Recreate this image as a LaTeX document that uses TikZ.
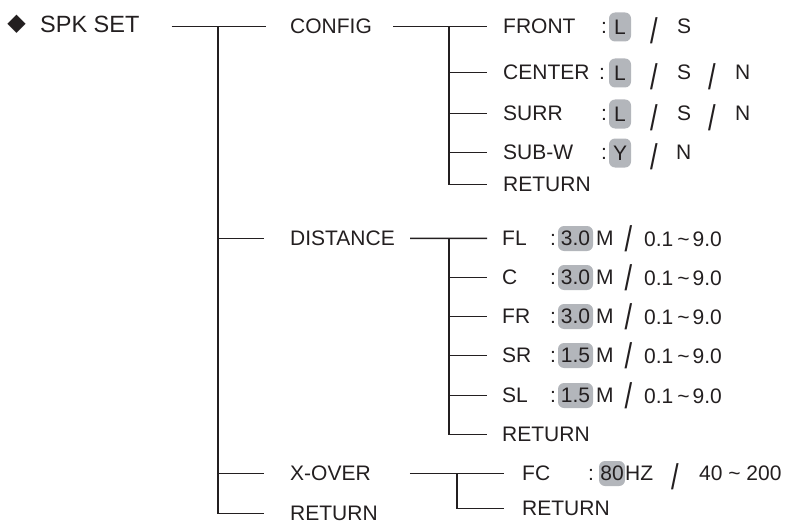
\documentclass[tikz,border=0pt]{standalone}
\usepackage{fontspec}
\usepackage{graphicx}
\setmainfont{Liberation Sans}
\newfontfamily\symfont{DejaVu Sans}
\definecolor{ink}{HTML}{231F20}
\definecolor{hlgray}{HTML}{B3B6BB}
\newcommand{\tallslash}{\scalebox{1.3}[1.7]{/}}
\newcommand{\rangetext}{0.1\hspace{4pt}\textasciitilde\hspace{3pt}9.0}
\begin{document}
\begin{tikzpicture}[x=1pt,y=-1pt,
  txt/.style={inner sep=0pt, anchor=base west, text=ink, font=\fontsize{21}{21}\selectfont},
  rangetxt/.style={txt},
  treeline/.style={draw=ink, line width=1.5pt},
  hlbox/.style={fill=hlgray, rounded corners=6pt, inner sep=0pt, text=ink, font=\fontsize{21}{21}\selectfont},
  letterbox/.style={hlbox, minimum width=22pt, minimum height=29pt},
  numbox/.style={hlbox, minimum width=35pt, minimum height=25pt},
  slashnode/.style={inner sep=0pt, text=ink, font=\fontsize{21}{21}\selectfont},
]
\useasboundingbox (0,0) rectangle (789,524);

% ---- level 0
\node[inner sep=0pt, text=ink, font=\symfont\fontsize{24}{24}\selectfont] (dia) at (16.5,24) {◆};
\node[txt, font=\fontsize{23.5}{23.5}\selectfont] (spk) at (40,32.4) {SPK SET};

% ---- level 1
\node[txt] (config) at (290,33.5) {CONFIG};
\node[txt] (distance) at (290,245.5) {DISTANCE};
\node[txt] (xover) at (290,480.5) {X-OVER};
\node[txt] (ret1) at (290,520.5) {RETURN};

% ---- CONFIG children
\node[txt] (front) at (503,33.5) {FRONT};
\node[txt] (center) at (503,79.5) {CENTER};
\node[txt] (surr) at (503,120.5) {SURR};
\node[txt] (subw) at (503,159.5) {SUB-W};
\node[txt] (cret) at (503,191.5) {RETURN};

\node[txt] (frontc) at (601,33.5) {:};
\node[letterbox] (frontv) at (620,27) {L};
\node[slashnode] (fronts1) at (654,31) {\tallslash};
\node[txt] (frontS) at (677,33.5) {S};

\node[txt] (centerc) at (599,79.5) {:};
\node[letterbox] (centerv) at (620,73) {L};
\node[slashnode] (centers1) at (654,77) {\tallslash};
\node[txt] (centerS) at (677,79.5) {S};
\node[slashnode] (centers2) at (712,77) {\tallslash};
\node[txt] (centerN) at (735,79.5) {N};

\node[txt] (surrc) at (601,120.5) {:};
\node[letterbox] (surrv) at (620,114) {L};
\node[slashnode] (surrs1) at (654,118) {\tallslash};
\node[txt] (surrS) at (677,120.5) {S};
\node[slashnode] (surrs2) at (712,118) {\tallslash};
\node[txt] (surrN) at (735,120.5) {N};

\node[txt] (subwc) at (601,159.5) {:};
\node[letterbox] (subwv) at (620,153) {Y};
\node[slashnode] (subws1) at (654,157) {\tallslash};
\node[txt] (subwN) at (676,159.5) {N};

% ---- DISTANCE children
\node[txt] (dfl) at (502,245.5) {FL};
\node[txt] (dc) at (502,284.5) {C};
\node[txt] (dfr) at (502,323.5) {FR};
\node[txt] (dsr) at (502,362.5) {SR};
\node[txt] (dsl) at (502,402.5) {SL};
\node[txt] (dret) at (502,441.5) {RETURN};

\node[txt] (dflc) at (550,245.5) {:};
\node[numbox] (dflv) at (575.5,238.5) {3.0};
\node[txt] (dflm) at (596,245.5) {M};
\node[slashnode] (dfls) at (628.5,239) {\tallslash};
\node[rangetxt] (dflr) at (644,246.5) {\rangetext};

\node[txt] (dcc) at (550,284.5) {:};
\node[numbox] (dcv) at (575.5,277.5) {3.0};
\node[txt] (dcm) at (596,284.5) {M};
\node[slashnode] (dcs) at (628.5,278) {\tallslash};
\node[rangetxt] (dcr) at (644,285.5) {\rangetext};

\node[txt] (dfrc) at (550,323.5) {:};
\node[numbox] (dfrv) at (575.5,316.5) {3.0};
\node[txt] (dfrm) at (596,323.5) {M};
\node[slashnode] (dfrs) at (628.5,317) {\tallslash};
\node[rangetxt] (dfrr) at (644,324.5) {\rangetext};

\node[txt] (dsrc) at (550,362.5) {:};
\node[numbox] (dsrv) at (575.5,355.5) {1.5};
\node[txt] (dsrm) at (596,362.5) {M};
\node[slashnode] (dsrs) at (628.5,356) {\tallslash};
\node[rangetxt] (dsrr) at (644,363.5) {\rangetext};

\node[txt] (dslc) at (550,402.5) {:};
\node[numbox] (dslv) at (575.5,395.5) {1.5};
\node[txt] (dslm) at (596,402.5) {M};
\node[slashnode] (dsls) at (628.5,396) {\tallslash};
\node[rangetxt] (dslr) at (644,403.5) {\rangetext};

% ---- X-OVER children
\node[txt] (fc) at (522,480.5) {FC};
\node[txt] (xret) at (522,515.5) {RETURN};
\node[txt] (fcc) at (588,480.5) {:};
\node[hlbox, minimum width=26pt, minimum height=25pt] (fcv) at (612,473.5) {80};
\node[txt] (fchz) at (625,480.5) {HZ};
\node[slashnode] (fcs) at (675,477) {\tallslash};
\node[txt] (fcr) at (699,480.5) {40 \textasciitilde{} 200};

% ---- connectors
\coordinate (j0) at ([xshift=-72pt]config.west);
\draw[treeline] ([xshift=32pt]spk.east |- config.west) -- ([xshift=-24pt]config.west);
\draw[treeline] (j0) |- ([xshift=-26pt]ret1.west);
\draw[treeline] (j0 |- distance.west) -- ([xshift=-26pt]distance.west);
\draw[treeline] (j0 |- xover.west) -- ([xshift=-26pt]xover.west);

\coordinate (j1) at ([xshift=-54pt]front.west);
\draw[treeline] ([xshift=21pt]config.east) -- ([xshift=-16pt]front.west);
\draw[treeline] (j1) |- ([xshift=-16pt]cret.west);
\draw[treeline] (j1 |- center.west) -- ([xshift=-16pt]center.west);
\draw[treeline] (j1 |- surr.west) -- ([xshift=-16pt]surr.west);
\draw[treeline] (j1 |- subw.west) -- ([xshift=-16pt]subw.west);

\coordinate (j2) at ([xshift=-53pt]dfl.west);
\draw[treeline] ([xshift=15pt]distance.east) -- ([xshift=-15pt]dfl.west);
\draw[treeline] (j2) |- ([xshift=-15pt]dret.west);
\draw[treeline] (j2 |- dc.west) -- ([xshift=-15pt]dc.west);
\draw[treeline] (j2 |- dfr.west) -- ([xshift=-15pt]dfr.west);
\draw[treeline] (j2 |- dsr.west) -- ([xshift=-15pt]dsr.west);
\draw[treeline] (j2 |- dsl.west) -- ([xshift=-15pt]dsl.west);

\coordinate (j3) at ([xshift=-65pt]fc.west);
\draw[treeline] ([xshift=39pt]xover.east) -- ([xshift=-18pt]fc.west);
\draw[treeline] (j3) |- ([xshift=-18pt]xret.west);
\end{tikzpicture}
\end{document}
